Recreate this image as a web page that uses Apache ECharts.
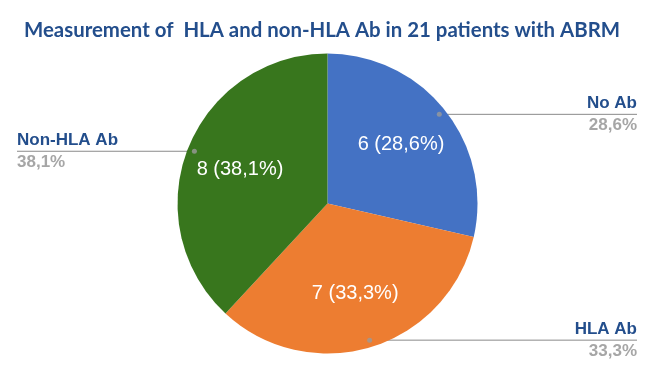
<!DOCTYPE html>
<html>
<head>
<meta charset="utf-8">
<script src="https://cdn.jsdelivr.net/npm/echarts@6/dist/echarts.min.js"></script>
<style>html,body{margin:0;padding:0;background:#fff;}#c{width:654px;height:371px;}</style>
</head>
<body>
<div id="c"></div>
<script>
const titleText = 'Measurement of  HLA and non-HLA Ab in 21 patients with ABRM';
const categories = ['No Ab', 'HLA Ab', 'Non-HLA Ab'];
const values = [6, 7, 8];
const sliceColors = ['#4472C4', '#ED7D31', '#38761D'];

const total = values.reduce((a, b) => a + b, 0);
const pct = v => (v / total * 100).toFixed(1).replace('.', ',') + '%';

const CX = 327.5, CY = 203.5, R = 150, R_DOT = 143;

// mid-angle (in data units) of each slice, for the leader-line dots
const midVals = [];
let cum = 0;
values.forEach(v => { midVals.push(cum + v / 2); cum += v; });

const pieData = categories.map((n, i) => ({ name: n, value: values[i], itemStyle: { color: sliceColors[i] } }));
const clearData = categories.map((n, i) => ({ name: n, value: values[i] }));

const chart = echarts.init(document.getElementById('c'), null, { renderer: 'canvas' });
chart.setOption({
  animation: false,
  backgroundColor: '#ffffff',
  title: {
    text: titleText,
    left: 19,
    top: 15,
    textStyle: { fontFamily: "Lato, sans-serif", fontWeight: 'bold', fontSize: 20.4, color: '#234e8c' }
  },
  polar: { center: [CX, CY], radius: R },
  angleAxis: { type: 'value', min: 0, max: total, startAngle: 90, clockwise: true, show: false, splitLine: { show: false } },
  radiusAxis: { type: 'value', min: 0, max: R, show: false, splitLine: { show: false } },
  series: [
    {
      type: 'pie',
      center: [CX, CY],
      radius: R,
      startAngle: 90,
      clockwise: true,
      silent: true,
      label: { show: false },
      labelLine: { show: false },
      itemStyle: { borderWidth: 0 },
      data: pieData
    },
    {
      type: 'pie',
      center: [CX, CY],
      radius: 182,
      startAngle: 90,
      clockwise: true,
      silent: true,
      itemStyle: { color: 'rgba(0,0,0,0)', borderWidth: 0 },
      label: {
        show: true,
        position: 'inside',
        formatter: p => p.value + ' (' + pct(p.value) + ')',
        color: '#ffffff',
        fontSize: 20,
        fontFamily: "'Liberation Sans', Arial, sans-serif"
      },
      labelLine: { show: false },
      data: clearData
    },
    {
      type: 'pie',
      center: [CX, CY],
      radius: R_DOT,
      startAngle: 90,
      clockwise: true,
      silent: true,
      avoidLabelOverlap: false,
      itemStyle: { color: 'rgba(0,0,0,0)', borderWidth: 0 },
      label: {
        show: true,
        position: 'outside',
        alignTo: 'edge',
        edgeDistance: 17,
        formatter: p => '{n|' + p.name + '}\n{p|' + pct(p.value) + '}',
        rich: {
          n: { fontSize: 17, fontWeight: 'bold', color: '#234e8c', lineHeight: 22, fontFamily: "'Liberation Sans', Arial, sans-serif" },
          p: { fontSize: 17, fontWeight: 'bold', color: '#a6a6a6', lineHeight: 22, fontFamily: "'Liberation Sans', Arial, sans-serif" }
        }
      },
      labelLine: { show: true, length: 0, length2: 10, smooth: false, lineStyle: { color: '#8a8a8a', width: 1 } },
      labelLayout: function (params) {
        const pts = params.labelLinePoints;
        if (!pts) return {};
        const isLeft = params.labelRect.x < CX;
        pts[2][0] = isLeft ? params.labelRect.x : params.labelRect.x + params.labelRect.width;
        return { labelLinePoints: pts };
      },
      data: clearData
    },
    {
      type: 'scatter',
      coordinateSystem: 'polar',
      silent: true,
      symbol: 'circle',
      symbolSize: 5,
      itemStyle: { color: '#9a9a9a' },
      data: midVals.map(a => [R_DOT, a])
    }
  ]
});
</script>
</body>
</html>
